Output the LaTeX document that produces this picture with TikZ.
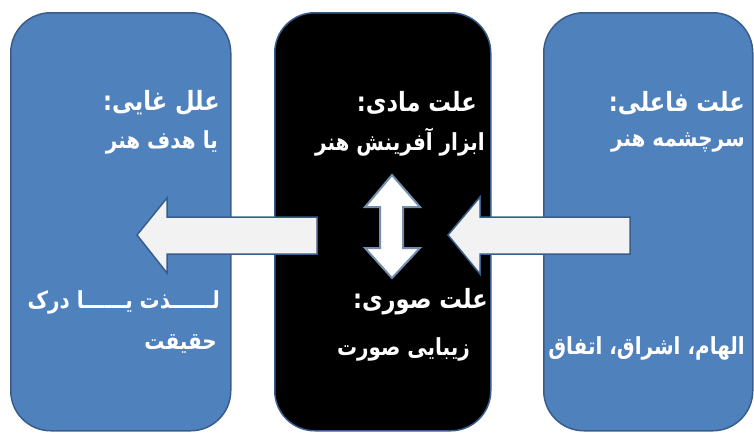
\documentclass[tikz,border=0pt]{standalone}
\usepackage{fontspec}
\newfontfamily\arabicfont[Script=Arabic, FakeStretch=0.85]{DejaVu Sans}
\TeXXeTstate=1
\definecolor{boxblue}{HTML}{4F81BD}
\definecolor{edgeblue}{HTML}{385D8A}
\definecolor{arrowfill}{HTML}{F2F2F2}
\begin{document}
\begin{tikzpicture}[x=1pt,y=-1pt,
  box/.style={draw=edgeblue, line width=1.5pt, rounded corners=40pt, inner sep=0pt, anchor=north west, minimum height=418pt},
  blockarrow/.style={fill=arrowfill, draw=edgeblue, line width=1.5pt, line join=miter},
  head/.style={text=white, inner sep=0pt, anchor=east, font=\arabicfont\bfseries\fontsize{26.5}{30}\selectfont},
  sub/.style={text=white, inner sep=0pt, anchor=east, font=\arabicfont\bfseries\fontsize{23.5}{27}\selectfont}]
\useasboundingbox (0,0) rectangle (754,432);
\node[box, fill=boxblue, minimum width=220pt] (final) at (10,12) {};
\node[box, fill=black, minimum width=216pt] (material) at (274,12) {};
\node[box, fill=boxblue, minimum width=209pt] (agent) at (543,12) {};
% arrows
\draw[blockarrow] (317,217) -- (167,217) -- (167,198) -- (137,235) -- (167,273) -- (167,254) -- (317,254) -- cycle;
\draw[blockarrow] (630,217) -- (480,217) -- (480,197) -- (448,235) -- (480,274) -- (480,254) -- (630,254) -- cycle;
\draw[fill=white, draw=edgeblue!70!white, line width=2pt] (392,175) -- (420,207) -- (403,207) -- (403,248) -- (420,248) -- (392,278) -- (365,248) -- (380,248) -- (380,207) -- (365,207) -- cycle;
% texts left
\node[head] (t1) at (220,103) {\beginR علل غایی:\endR};
\node[sub] (t2) at (218,142) {\beginR یا هدف هنر\endR};
\node[sub] (t3) at (220,302) {\beginR لــــــذت یــــــا درک\endR};
\node[sub] (t4) at (217,344) {\beginR حقیقت\endR};
% texts middle
\node[head] (t5) at (477,103) {\beginR علت مادی:\endR};
\node[sub] (t6) at (485,142) {\beginR ابزار آفرینش هنر\endR};
\node[head] (t7) at (488,302) {\beginR علت صوری:\endR};
\node[sub] (t8) at (470,349) {\beginR زیبایی صورت\endR};
% texts right
\node[head] (t9) at (745,103) {\beginR علت فاعلی:\endR};
\node[sub] (t10) at (745,142) {\beginR سرچشمه هنر\endR};
\node[sub] (t11) at (745,348) {\beginR الهام، اشراق، اتفاق\endR};
\end{tikzpicture}
\end{document}
